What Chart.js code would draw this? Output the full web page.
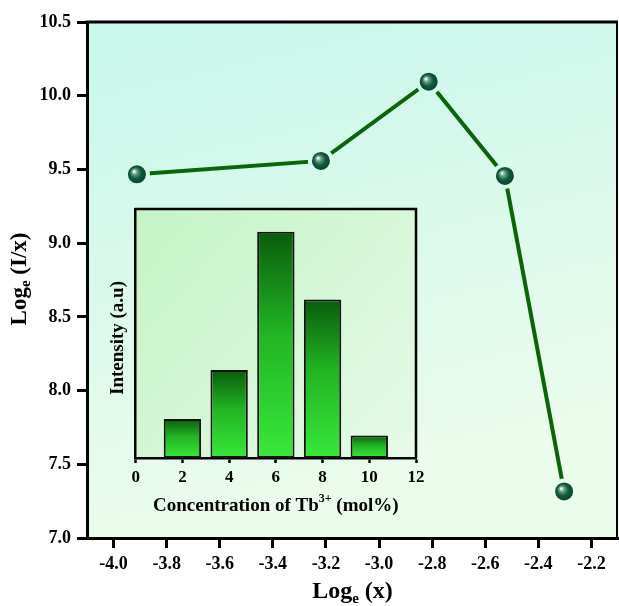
<!DOCTYPE html>
<html><head><meta charset="utf-8">
<script src="https://cdn.jsdelivr.net/npm/chart.js@4.4.0/dist/chart.umd.min.js"></script>
<style>
html,body{margin:0;padding:0;background:#fff;}
#wrap{position:relative;width:619px;height:606px;overflow:hidden;}
#main{position:absolute;left:0;top:0;}
#inset{position:absolute;left:95px;top:190px;}
</style></head><body>
<div id="wrap"><canvas id="main" width="619" height="606"></canvas><canvas id="inset" width="340" height="340"></canvas></div>
<script>
// ---- data ----
const logX = [-3.912, -3.219, -2.813, -2.526, -2.303];
const logIx = [9.467, 9.558, 10.095, 9.456, 7.316];
const xTicks = [-4.0, -3.8, -3.6, -3.4, -3.2, -3.0, -2.8, -2.6, -2.4, -2.2];
const yTicks = [7.0, 7.5, 8.0, 8.5, 9.0, 9.5, 10.0, 10.5];
const tbConc = [2, 4, 6, 8, 10];
const intensity = [15.7, 35.3, 90.9, 63.7, 9.0];
const insetTicks = [0, 2, 4, 6, 8, 10, 12];

const FONT = '"Liberation Serif", "Times New Roman", serif';

function drawRich(ctx, parts, cx, cy, rot) {
  ctx.save();
  ctx.translate(cx, cy);
  if (rot) ctx.rotate(rot);
  let total = 0;
  parts.forEach(p => { ctx.font = `bold ${p.s}px ${FONT}`; p.w = ctx.measureText(p.t).width; total += p.w; });
  let x = -total / 2;
  ctx.textBaseline = 'middle'; ctx.textAlign = 'left'; ctx.fillStyle = '#000';
  parts.forEach(p => { ctx.font = `bold ${p.s}px ${FONT}`; ctx.fillText(p.t, x, p.dy || 0); x += p.w; });
  ctx.restore();
}

function bgGrad(chart) {
  const a = chart.chartArea, ctx = chart.ctx;
  const g = ctx.createLinearGradient(a.left, a.top, a.left + 120, a.bottom);
  g.addColorStop(0, '#c8f7ec');
  g.addColorStop(1, '#ecfcec');
  return g;
}

function noPad(s) { s.paddingLeft = 0; s.paddingRight = 0; s.paddingTop = 0; s.paddingBottom = 0; }

const mainDeco = {
  id: 'mainDeco',
  beforeDraw(chart) {
    const { ctx, chartArea: a } = chart;
    ctx.save();
    ctx.fillStyle = bgGrad(chart);
    ctx.fillRect(a.left, a.top, a.right - a.left, a.bottom - a.top);
    ctx.restore();
  },
  afterDraw(chart) {
    const { ctx, chartArea: a } = chart;
    ctx.save();
    ctx.strokeStyle = '#000';
    ctx.lineWidth = 3;
    ctx.beginPath(); ctx.moveTo(a.left - 1.5, a.top); ctx.lineTo(a.right, a.top); ctx.stroke();
    ctx.lineWidth = 2;
    ctx.beginPath(); ctx.moveTo(a.right - 1, a.top); ctx.lineTo(a.right - 1, a.bottom); ctx.stroke();
    ctx.restore();
    drawRich(ctx, [{ t: 'Log', s: 24 }, { t: 'e', s: 15, dy: 7 }, { t: ' (x)', s: 24 }], (a.left + a.right) / 2, 592, 0);
    drawRich(ctx, [{ t: 'Log', s: 23 }, { t: 'e', s: 15, dy: 6 }, { t: ' (I/x)', s: 23 }], 20, 279, -Math.PI / 2);
  }
};

new Chart(document.getElementById('main'), {
  type: 'scatter',
  data: {
    datasets: [{
      data: logX.map((x, i) => ({ x: x, y: logIx[i] })),
      showLine: true,
      clip: false,
      borderColor: '#0a650a',
      borderWidth: 4,
      pointRadius: 11,
      pointBorderWidth: 4,
      pointBorderColor(c) {
        if (!c.chart.chartArea) return '#d8f8ec';
        return bgGrad(c.chart);
      },
      pointBackgroundColor(c) {
        const ch = c.chart;
        if (!ch.chartArea || !c.raw) return '#0d5a3a';
        const x = ch.scales.x.getPixelForValue(c.raw.x), y = ch.scales.y.getPixelForValue(c.raw.y);
        const g = ch.ctx.createRadialGradient(x - 3, y - 3, 0.5, x, y, 10);
        g.addColorStop(0, '#f2fff8');
        g.addColorStop(0.22, '#6f9d8b');
        g.addColorStop(0.55, '#0f5c3e');
        g.addColorStop(1, '#093f2a');
        return g;
      }
    }]
  },
  options: {
    responsive: false,
    devicePixelRatio: 1,
    animation: false,
    events: [],
    layout: { autoPadding: false, padding: { left: 0, top: 22, right: 1, bottom: 0 } },
    plugins: { legend: { display: false }, tooltip: { enabled: false } },
    scales: {
      x: {
        type: 'linear', min: -4.1, max: -2.1,
        afterFit(s) { s.height = 68; noPad(s); },
        afterBuildTicks(s) { s.ticks = xTicks.map(v => ({ value: v })); },
        border: { display: true, width: 3, color: '#000' },
        grid: { drawOnChartArea: false, tickLength: 10, tickWidth: 3, tickColor: '#000' },
        ticks: { color: '#000', padding: 6, maxRotation: 0, autoSkip: false, font: { family: FONT, size: 18, weight: 'bold' }, callback: v => Number(v).toFixed(1) }
      },
      y: {
        type: 'linear', min: 7.0, max: 10.5,
        afterFit(s) { s.width = 87; noPad(s); },
        afterBuildTicks(s) { s.ticks = yTicks.map(v => ({ value: v })); },
        border: { display: true, width: 3, color: '#000' },
        grid: { drawOnChartArea: false, tickLength: 10, tickWidth: 3, tickColor: '#000' },
        ticks: { color: '#000', padding: 6, autoSkip: false, font: { family: FONT, size: 18, weight: 'bold' }, callback: v => Number(v).toFixed(1) }
      }
    }
  },
  plugins: [mainDeco]
});

// ---- inset ----
const insetDeco = {
  id: 'insetDeco',
  beforeDraw(chart) {
    const { ctx, chartArea: a } = chart;
    ctx.save();
    const g = ctx.createLinearGradient(a.left, a.top, a.right, a.bottom);
    g.addColorStop(0, '#c4f4c4');
    g.addColorStop(1, '#e6fae8');
    ctx.fillStyle = g;
    ctx.fillRect(a.left, a.top, a.right - a.left, a.bottom - a.top);
    ctx.restore();
  },
  afterDraw(chart) {
    const { ctx, chartArea: a } = chart;
    ctx.save();
    ctx.strokeStyle = '#000';
    ctx.lineWidth = 2.5;
    ctx.beginPath();
    ctx.moveTo(a.left - 1, a.top); ctx.lineTo(a.right, a.top); ctx.lineTo(a.right, a.bottom);
    ctx.stroke();
    ctx.restore();
    drawRich(ctx, [{ t: 'Concentration of Tb', s: 19 }, { t: '3+', s: 12, dy: -7 }, { t: ' (mol%)', s: 19 }], (a.left + a.right) / 2, 316, 0);
    drawRich(ctx, [{ t: 'Intensity (a.u)', s: 19 }], 23, 148, -Math.PI / 2);
  }
};

new Chart(document.getElementById('inset'), {
  type: 'bar',
  data: {
    datasets: [{
      data: tbConc.map((x, i) => ({ x: x, y: intensity[i] })),
      borderColor: '#111',
      borderWidth: 2,
      borderSkipped: false,
      barPercentage: 0.8,
      categoryPercentage: 1.0,
      backgroundColor(c) {
        const ch = c.chart;
        if (!ch.chartArea || !c.raw) return '#22b822';
        const top = ch.scales.y.getPixelForValue(c.raw.y), base = ch.scales.y.getPixelForValue(0);
        const g = ch.ctx.createLinearGradient(0, top, 0, base);
        g.addColorStop(0, '#0a5c0c');
        g.addColorStop(0.45, '#22b424');
        g.addColorStop(1, '#38e83a');
        return g;
      }
    }]
  },
  options: {
    responsive: false,
    devicePixelRatio: 1,
    animation: false,
    events: [],
    layout: { autoPadding: false, padding: { left: 0, top: 19, right: 19, bottom: 0 } },
    plugins: { legend: { display: false }, tooltip: { enabled: false } },
    scales: {
      x: {
        type: 'linear', min: 0, max: 12, offset: false,
        afterFit(s) { s.height = 72; noPad(s); },
        afterBuildTicks(s) { s.ticks = insetTicks.map(v => ({ value: v })); },
        border: { display: true, width: 2.5, color: '#000' },
        grid: { offset: false, drawOnChartArea: false, tickLength: 5, tickWidth: 2.5, tickColor: '#000' },
        ticks: { color: '#000', padding: 4, maxRotation: 0, autoSkip: false, font: { family: FONT, size: 17, weight: 'bold' } }
      },
      y: {
        type: 'linear', min: 0, max: 100,
        afterFit(s) { s.width = 40.7; noPad(s); },
        border: { display: true, width: 2.5, color: '#000' },
        grid: { display: false },
        ticks: { display: false }
      }
    }
  },
  plugins: [insetDeco]
});
</script>
</body></html>
